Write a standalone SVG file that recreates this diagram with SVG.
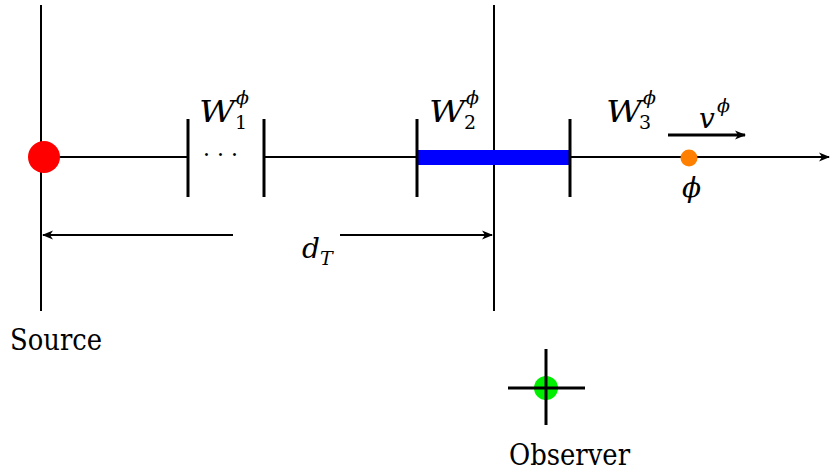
<svg xmlns="http://www.w3.org/2000/svg" width="831" height="473" viewBox="0 0 831 473">
<style>
.ln{stroke:#000;stroke-width:2;fill:none}
.tk{stroke:#000;stroke-width:3;fill:none}
text{font-family:'DejaVu Serif','Liberation Serif',serif;fill:#000}
.m{font-style:italic}
</style>
<defs>
<marker id="ah" markerWidth="12" markerHeight="10" refX="10" refY="5" orient="auto" markerUnits="userSpaceOnUse">
<path d="M0,0.5 L11,5 L0,9.5 L3,5 Z" fill="#000"/>
</marker>
</defs>
<rect width="831" height="473" fill="#fff"/>
<g id="connectors">
<line class="ln" x1="41" y1="5" x2="41" y2="311"/>
<line class="ln" x1="494" y1="5" x2="494" y2="311"/>
<line class="ln" x1="41" y1="157" x2="189" y2="157"/>
<line class="ln" x1="264" y1="157" x2="829" y2="157" marker-end="url(#ah)"/>
<line class="ln" x1="233" y1="235" x2="43" y2="235" marker-end="url(#ah)"/>
<line class="ln" x1="340" y1="235" x2="492" y2="235" marker-end="url(#ah)"/>
<line class="tk" x1="668" y1="135" x2="745" y2="135" marker-end="url(#ah)"/>
</g>
<g id="windows">
<line class="tk" x1="188" y1="119" x2="188" y2="197"/>
<line class="tk" x1="264" y1="119" x2="264" y2="197"/>
<rect x="417" y="150" width="153" height="15" fill="#0000ff"/>
<line class="tk" x1="417" y1="119" x2="417" y2="197"/>
<line class="tk" x1="570" y1="119" x2="570" y2="197"/>
<text x="203" y="162" font-size="22">· · ·</text>
</g>
<g id="W1">
<text class="m" x="199" y="122" font-size="30" textLength="36" lengthAdjust="spacingAndGlyphs">W</text>
<text class="m" x="236" y="104" font-size="19">ϕ</text>
<text x="235" y="129" font-size="19">1</text>
</g>
<g id="W2">
<text class="m" x="429" y="122" font-size="30" textLength="36" lengthAdjust="spacingAndGlyphs">W</text>
<text class="m" x="466" y="104" font-size="19">ϕ</text>
<text x="464" y="129" font-size="19">2</text>
</g>
<g id="W3">
<text class="m" x="606" y="122" font-size="30" textLength="36" lengthAdjust="spacingAndGlyphs">W</text>
<text class="m" x="643" y="104" font-size="19">ϕ</text>
<text x="639" y="129" font-size="19">3</text>
</g>
<g id="velocity">
<text class="m" x="699" y="128" font-size="28">v</text>
<text class="m" x="717" y="112" font-size="19">ϕ</text>
</g>
<g id="source">
<circle cx="44" cy="157" r="16" fill="#ff0000"/>
<text x="10" y="350" font-size="30" textLength="92" lengthAdjust="spacingAndGlyphs">Source</text>
</g>
<g id="particle">
<circle cx="689" cy="158" r="8.5" fill="#ff8000"/>
<text class="m" x="682" y="197" font-size="28">ϕ</text>
</g>
<g id="distance">
<text class="m" x="302" y="258" font-size="28">d</text>
<text class="m" x="320" y="265" font-size="19">T</text>
</g>
<g id="observer">
<circle cx="546" cy="388" r="12" fill="#00ee00"/>
<line class="tk" x1="508" y1="388" x2="585" y2="388"/>
<line class="tk" x1="546" y1="349" x2="546" y2="425"/>
<text x="509" y="465" font-size="30" textLength="121" lengthAdjust="spacingAndGlyphs">Observer</text>
</g>
</svg>
